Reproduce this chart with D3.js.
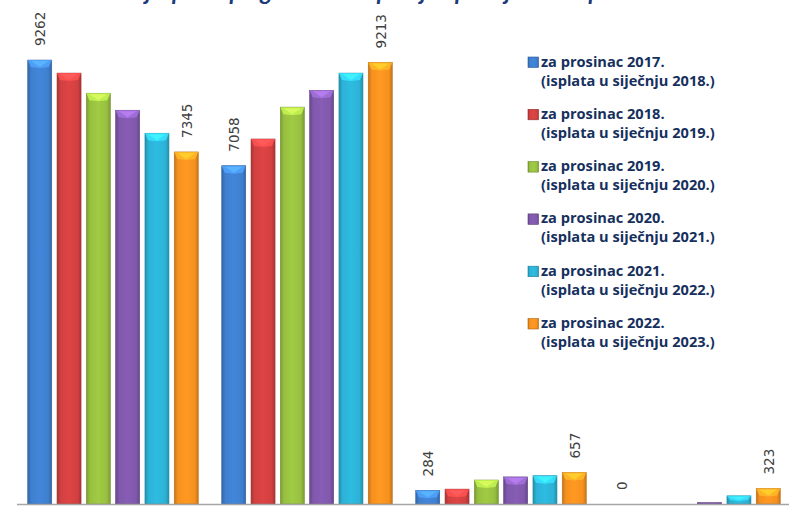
<!DOCTYPE html>
<html>
<head>
<meta charset="utf-8">
<script src="https://cdn.jsdelivr.net/npm/d3@7"></script>
<style>
  body { margin: 0; background: #fff; }
  svg { display: block; }
</style>
</head>
<body>
<div class="container"></div>
<script>
// groups on the x axis (their labels fall below the visible area)
const groups = ['Skupina 1', 'Skupina 2', 'Skupina 3', 'Skupina 4'];

const series = [
    ['za prosinac 2017.', '(isplata u siječnju 2018.)'],
    ['za prosinac 2018.', '(isplata u siječnju 2019.)'],
    ['za prosinac 2019.', '(isplata u siječnju 2020.)'],
    ['za prosinac 2020.', '(isplata u siječnju 2021.)'],
    ['za prosinac 2021.', '(isplata u siječnju 2022.)'],
    ['za prosinac 2022.', '(isplata u siječnju 2023.)']
];

// one array per group, one value per series
const group1 = [9262, 8990, 8570, 8215, 7735, 7345];
const group2 = [7058, 7615, 8280, 8630, 8990, 9213];
const group3 = [284, 310, 500, 565, 590, 657];
const group4 = [0, 0, 0, 30, 170, 323];

const colors = ['#3f7fcf', '#d24040', '#98c040', '#8058ac', '#2cb2d6', '#f7911f'];

const width = 789;
const height = 506;

const svg = d3.select('.container')
    .append('svg')
    .attr('width', width)
    .attr('height', height);

const defs = svg.append('defs');
colors.forEach((c, i) => {
    const g = defs.append('linearGradient')
        .attr('id', 'bar' + i)
        .attr('x1', '0%').attr('x2', '100%')
        .attr('y1', '0%').attr('y2', '0%');
    g.append('stop').attr('offset', '0%').attr('stop-color', d3.color(c).darker(0.6));
    g.append('stop').attr('offset', '15%').attr('stop-color', c);
    g.append('stop').attr('offset', '50%').attr('stop-color', d3.color(c).brighter(0.15));
    g.append('stop').attr('offset', '85%').attr('stop-color', c);
    g.append('stop').attr('offset', '100%').attr('stop-color', d3.color(c).darker(0.6));
});

// title, cut off at the top edge
svg.append('text')
    .attr('x', 110)
    .attr('y', 0)
    .attr('font-family', 'Lato')
    .attr('font-style', 'italic')
    .attr('font-weight', 'bold')
    .attr('font-size', '24px')
    .attr('fill', '#1f3a7a')
    .text('Broj isplata po godinama i prosjek po mjesecu isplate');

const values = [group1, group2, group3, group4];

const x0 = d3.scaleBand()
    .domain(groups)
    .range([16, 792])
    .paddingInner(0.121)
    .paddingOuter(0.0605);

const x1 = d3.scaleBand()
    .domain(d3.range(series.length))
    .range([0, x0.bandwidth()])
    .paddingInner(0.181);

const y = d3.scaleLinear()
    .domain([0, 10000])
    .range([504, 24.7]);

const rows = [];
groups.forEach((g, gi) => {
    values[gi].forEach((v, si) => rows.push({ group: g, s: si, value: v }));
});

const bar = svg.append('g')
    .selectAll('g')
    .data(rows)
    .enter()
    .append('g')
    .attr('transform', d => `translate(${x0(d.group) + x1(d.s)},0)`);

const bw = x1.bandwidth();

bar.filter(d => d.value > 0)
    .append('rect')
    .attr('x', 0)
    .attr('y', d => y(d.value))
    .attr('width', bw)
    .attr('height', d => y(0) - y(d.value))
    .attr('fill', d => `url(#bar${d.s})`)
    .attr('stroke', d => d3.color(colors[d.s]).darker(0.8))
    .attr('stroke-width', 0.6);

// bevel on top of each bar
bar.filter(d => y(0) - y(d.value) > 6)
    .append('path')
    .attr('d', d => {
        const t = y(d.value);
        const b = Math.min(7, (y(0) - t) / 2);
        return `M0,${t} L${bw},${t} L${bw - 3},${t + b} L${bw / 2},${t + b + 1} L3,${t + b} Z`;
    })
    .attr('fill', d => d3.color(colors[d.s]).brighter(0.7))
    .attr('opacity', 0.85);

bar.filter(d => y(0) - y(d.value) > 6)
    .append('path')
    .attr('d', d => {
        const t = y(d.value);
        const b = Math.min(7, (y(0) - t) / 2);
        return `M3,${t + 1} L${bw - 3},${t + 1} L${bw / 2},${t + b}Z`;
    })
    .attr('fill', d => d3.color(colors[d.s]).brighter(1.2))
    .attr('opacity', 0.6);

// value labels on the first and last bar of each group
bar.filter(d => d.s === 0 || d.s === series.length - 1)
    .append('text')
    .attr('transform', d => `translate(${bw / 2 + 1},${y(d.value) - 14}) rotate(-90)`)
    .attr('dy', '0.35em')
    .attr('font-family', 'DejaVu Sans')
    .attr('font-size', '13.5px')
    .attr('fill', '#404040')
    .text(d => d.value);

// baseline
svg.append('line')
    .attr('x1', 17)
    .attr('x2', width)
    .attr('y1', y(0) + 0.5)
    .attr('y2', y(0) + 0.5)
    .attr('stroke', '#a6a6a6')
    .attr('stroke-width', 1.5);

// legend
const legend = svg.append('g');
legend.append('rect')
    .attr('x', 456)
    .attr('y', 43)
    .attr('width', 333)
    .attr('height', 322)
    .attr('fill', '#fff');

const item = legend.selectAll('g')
    .data(series)
    .enter()
    .append('g')
    .attr('transform', (_, i) => `translate(528,${57 + i * 52.3})`);

item.append('rect')
    .attr('width', 10.5)
    .attr('height', 10.5)
    .attr('fill', (_, i) => `url(#bar${i})`)
    .attr('stroke', (_, i) => d3.color(colors[i]).darker(1))
    .attr('stroke-width', 0.6);

item.append('text')
    .attr('x', 13)
    .attr('y', 9.5)
    .attr('font-family', 'Open Sans')
    .attr('font-weight', 'bold')
    .attr('font-size', '14.6px')
    .attr('fill', '#16305e')
    .text(d => d[0]);

item.append('text')
    .attr('x', 13)
    .attr('y', 28.5)
    .attr('font-family', 'Open Sans')
    .attr('font-weight', 'bold')
    .attr('font-size', '14.6px')
    .attr('fill', '#16305e')
    .text(d => d[1]);
</script>
</body>
</html>
